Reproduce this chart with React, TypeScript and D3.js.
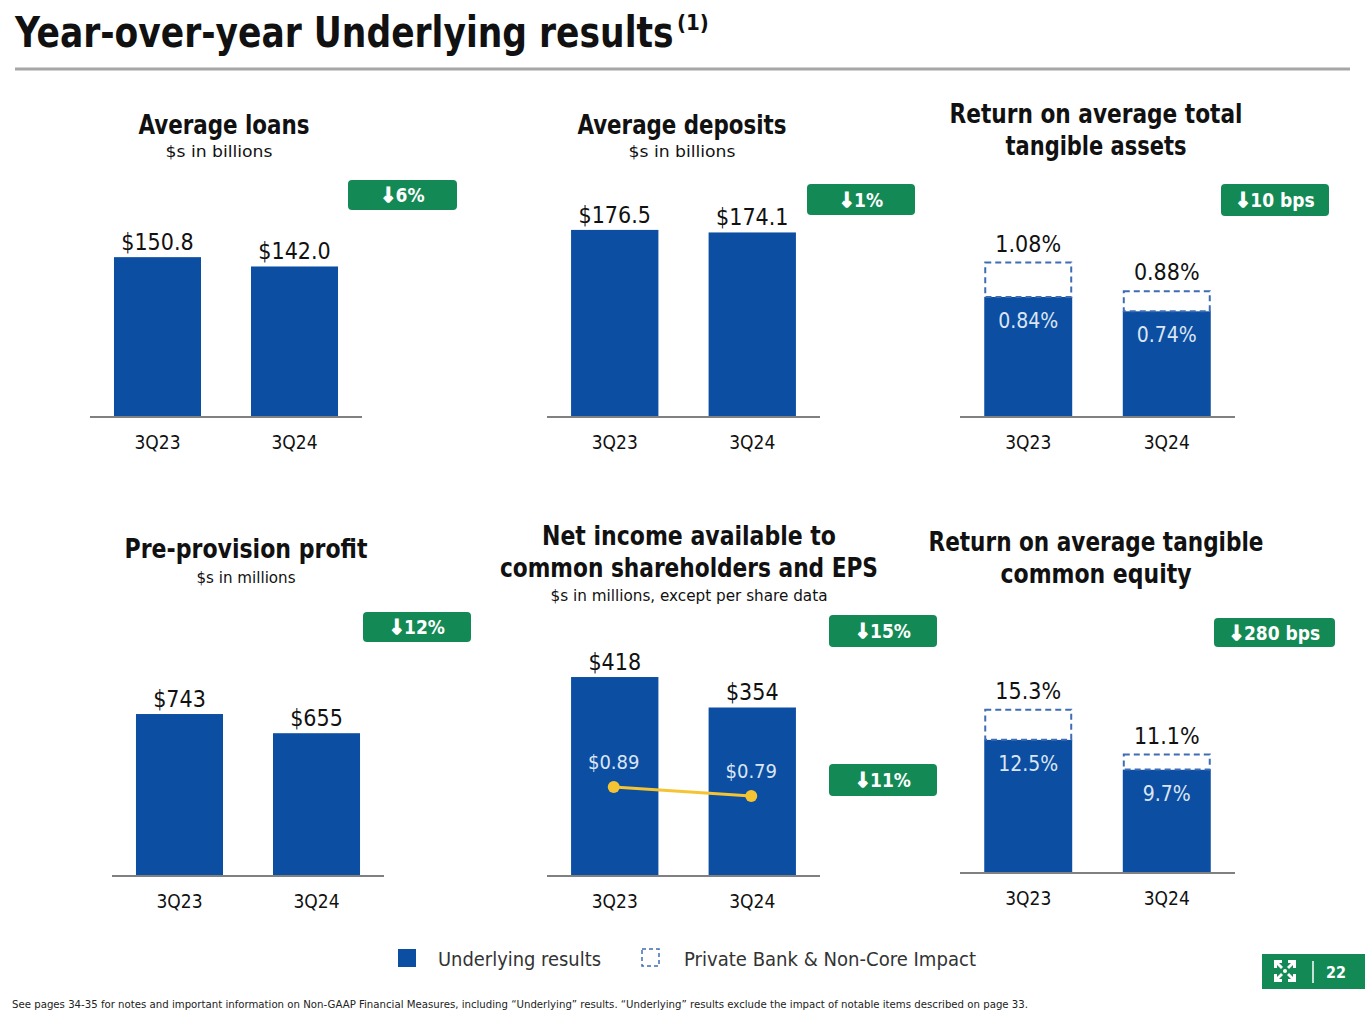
import React from "react";
import * as d3 from "d3";

// ---------- data ----------
const categories = ["3Q23", "3Q24"];
const avgLoans = [150.8, 142.0];
const avgDeposits = [176.5, 174.1];
const rotaUnderlying = [0.84, 0.74];
const rotaTotal = [1.08, 0.88];
const preProvisionProfit = [743, 655];
const netIncome = [418, 354];
const eps = [0.89, 0.79];
const rotceUnderlying = [12.5, 9.7];
const rotceTotal = [15.3, 11.1];

const loansLabels = ["$150.8", "$142.0"];
const depositsLabels = ["$176.5", "$174.1"];
const rotaUnderlyingLabels = ["0.84%", "0.74%"];
const rotaTotalLabels = ["1.08%", "0.88%"];
const pppLabels = ["$743", "$655"];
const netIncomeLabels = ["$418", "$354"];
const epsLabels = ["$0.89", "$0.79"];
const rotceUnderlyingLabels = ["12.5%", "9.7%"];
const rotceTotalLabels = ["15.3%", "11.1%"];

const badgeTexts = ["6%", "1%", "10 bps", "12%", "15%", "11%", "280 bps"];
const legendLabels = ["Underlying results", "Private Bank & Non-Core Impact"];

// ---------- style ----------
const BLUE = "#0b4ea2";
const GREEN = "#138a55";
const DASH = "#3f6db3";
const AXIS = "#808080";
const FONT = "'DejaVu Sans Condensed', 'DejaVu Sans', sans-serif";

type PanelCfg = {
  x0: number;
  x1: number;
  axisY: number;
  domainMax: number;
  heightPx: number;
  values: number[];
  labels: string[];
  totals?: number[];
  totalLabels?: string[];
};

const panels: PanelCfg[] = [
  { x0: 90, x1: 362, axisY: 417, domainMax: 200, heightPx: 212, values: avgLoans, labels: loansLabels },
  { x0: 547, x1: 820, axisY: 417, domainMax: 200, heightPx: 212, values: avgDeposits, labels: depositsLabels },
  {
    x0: 960, x1: 1235, axisY: 417, domainMax: 1.5, heightPx: 214.5,
    values: rotaUnderlying, labels: rotaUnderlyingLabels, totals: rotaTotal, totalLabels: rotaTotalLabels,
  },
  { x0: 112, x1: 384, axisY: 876, domainMax: 1000, heightPx: 218, values: preProvisionProfit, labels: pppLabels },
  { x0: 547, x1: 820, axisY: 876, domainMax: 500, heightPx: 238, values: netIncome, labels: netIncomeLabels },
  {
    x0: 960, x1: 1235, axisY: 873, domainMax: 20, heightPx: 213.3,
    values: rotceUnderlying, labels: rotceUnderlyingLabels, totals: rotceTotal, totalLabels: rotceTotalLabels,
  },
];

type TitleLine = { text: string; cx: number; y: number; w: number; size: number; bold: boolean };
const titles: TitleLine[] = [
  { text: "Average loans", cx: 224, y: 134, w: 171, size: 27, bold: true },
  { text: "$s in billions", cx: 219, y: 157, w: 107, size: 16, bold: false },
  { text: "Average deposits", cx: 682, y: 134, w: 209, size: 27, bold: true },
  { text: "$s in billions", cx: 682, y: 157, w: 107, size: 16, bold: false },
  { text: "Return on average total", cx: 1096, y: 123, w: 293, size: 27, bold: true },
  { text: "tangible assets", cx: 1096, y: 155, w: 181, size: 27, bold: true },
  { text: "Pre-provision profit", cx: 246, y: 558, w: 243, size: 27, bold: true },
  { text: "$s in millions", cx: 246, y: 583, w: 99, size: 16, bold: false },
  { text: "Net income available to", cx: 689, y: 545, w: 294, size: 27, bold: true },
  { text: "common shareholders and EPS", cx: 689, y: 577, w: 378, size: 27, bold: true },
  { text: "$s in millions, except per share data", cx: 689, y: 601, w: 277, size: 16, bold: false },
  { text: "Return on average tangible", cx: 1096, y: 551, w: 335, size: 27, bold: true },
  { text: "common equity", cx: 1096, y: 583, w: 191, size: 27, bold: true },
];

const badges = [
  { x: 348, y: 180, w: 109, h: 30 },
  { x: 807, y: 184, w: 108, h: 31 },
  { x: 1221, y: 184, w: 108, h: 32 },
  { x: 363, y: 612, w: 108, h: 30 },
  { x: 829, y: 615, w: 108, h: 32 },
  { x: 829, y: 764, w: 108, h: 32 },
  { x: 1214, y: 618, w: 121, h: 29 },
];

function Panel({ cfg }: { cfg: PanelCfg }) {
  const x = d3
    .scaleBand<string>()
    .domain(categories)
    .range([cfg.x0, cfg.x1])
    .paddingInner(0.365)
    .paddingOuter(0.175);
  const y = d3.scaleLinear().domain([0, cfg.domainMax]).range([cfg.axisY, cfg.axisY - cfg.heightPx]);
  const bw = x.bandwidth();
  return (
    <g>
      {categories.map((c, i) => {
        const bx = x(c)!;
        const top = y(cfg.values[i]);
        const cx = bx + bw / 2;
        return (
          <g key={c}>
            <rect x={bx} y={top} width={bw} height={cfg.axisY - top} fill={BLUE} />
            {cfg.totals ? (
              <>
                <rect
                  x={bx + 1}
                  y={y(cfg.totals[i])}
                  width={bw - 2}
                  height={top - y(cfg.totals[i])}
                  fill="white"
                  stroke={DASH}
                  strokeWidth={2}
                  strokeDasharray="6,4"
                />
                <text x={cx} y={y(cfg.totals[i]) - 11} textAnchor="middle" fontSize={23} fill="#111">
                  {cfg.totalLabels![i]}
                </text>
                <text x={cx} y={top + 31} textAnchor="middle" fontSize={21} fill="#dbe5f3">
                  {cfg.labels[i]}
                </text>
              </>
            ) : (
              <text x={cx} y={top - 7} textAnchor="middle" fontSize={23} fill="#111">
                {cfg.labels[i]}
              </text>
            )}
            <text x={cx} y={cfg.axisY + 32} textAnchor="middle" fontSize={19} fill="#111">
              {c}
            </text>
          </g>
        );
      })}
      <line x1={cfg.x0} x2={cfg.x1} y1={cfg.axisY} y2={cfg.axisY} stroke={AXIS} strokeWidth={2} />
    </g>
  );
}

function EpsLine() {
  const cfg = panels[4];
  const x = d3
    .scaleBand<string>()
    .domain(categories)
    .range([cfg.x0, cfg.x1])
    .paddingInner(0.365)
    .paddingOuter(0.175);
  const y = d3.scaleLinear().domain([0, 1]).range([867, 777]);
  const pts: [number, number][] = categories.map((c, i) => [x(c)! + x.bandwidth() / 2 - 1, y(eps[i])]);
  const line = d3.line();
  return (
    <g>
      <path d={line(pts)!} stroke="#f5c433" strokeWidth={3} fill="none" />
      {pts.map((p, i) => (
        <g key={i}>
          <circle cx={p[0]} cy={p[1]} r={6} fill="#f5c433" />
          <text x={p[0]} y={p[1] - 18} textAnchor="middle" fontSize={20} fill="#dbe5f3">
            {epsLabels[i]}
          </text>
        </g>
      ))}
    </g>
  );
}

function Logo() {
  const cx = 1285;
  const cy = 971;
  const arm = (rot: number) => (
    <g transform={`translate(${cx},${cy}) rotate(${rot})`} key={rot}>
      <path d="M -11 -11 L -3 -11 L -3 -8 L -6 -8 L -2 -4 L -4 -2 L -8 -6 L -8 -3 L -11 -3 Z" fill="white" />
    </g>
  );
  return (
    <g>
      <rect x={1262} y={954} width={103} height={35} fill={GREEN} />
      {[0, 90, 180, 270].map(arm)}
      <circle cx={cx} cy={cy} r={2} fill="white" />
      <line x1={1313} x2={1313} y1={961} y2={983} stroke="white" strokeWidth={1.5} />
      <text x={1336} y={978} textAnchor="middle" fontSize={16} fontWeight="bold" fill="white">
        22
      </text>
    </g>
  );
}

export default function App() {
  return (
    <svg
      width={1365}
      height={1024}
      style={{ position: "absolute", left: 0, top: 0, background: "white" }}
      fontFamily={FONT}
    >
      <rect x={0} y={0} width={1365} height={1024} fill="white" />
      {/* Title */}
      <text transform="translate(15,47) scale(0.914,1)" fontSize={42} fontWeight="bold" fill="#111">
        Year-over-year Underlying results
      </text>
      <text x={677} y={30} fontSize={22} fontWeight="bold" fill="#111">
        (1)
      </text>
      <line x1={15} x2={1350} y1={69} y2={69} stroke="#a6a6a6" strokeWidth={3} />

      {titles.map((t, i) => (
        <text
          key={i}
          x={t.cx - t.w / 2}
          y={t.y}
          fontSize={t.size}
          fontWeight={t.bold ? "bold" : "normal"}
          fill="#111"
          textLength={t.w}
          lengthAdjust="spacingAndGlyphs"
        >
          {t.text}
        </text>
      ))}

      {badges.map((b, i) => (
        <g key={i}>
          <rect x={b.x} y={b.y} width={b.w} height={b.h} rx={4} fill={GREEN} />
          <text
            x={b.x + b.w / 2}
            y={b.y + b.h / 2 + 7}
            textAnchor="middle"
            fontSize={19}
            fontWeight="bold"
            fill="white"
          >
            <tspan stroke="white" strokeWidth={1.6} fontSize={20}>↓</tspan>
            <tspan>{badgeTexts[i]}</tspan>
          </text>
        </g>
      ))}

      {panels.map((p, i) => (
        <Panel key={i} cfg={p} />
      ))}
      <EpsLine />

      {/* Legend */}
      <rect x={398} y={949} width={18} height={18} fill={BLUE} />
      <text x={438} y={966} fontSize={19} fill="#333" textLength={163} lengthAdjust="spacingAndGlyphs">
        {legendLabels[0]}
      </text>
      <rect x={642} y={949} width={17} height={17} fill="white" stroke={DASH} strokeWidth={1.5} strokeDasharray="4,3" />
      <text x={684} y={966} fontSize={19} fill="#333" textLength={292} lengthAdjust="spacingAndGlyphs">
        {legendLabels[1]}
      </text>

      <Logo />

      {/* Footnote */}
      <text x={12} y={1008} fontSize={11} fill="#222" textLength={1016} lengthAdjust="spacingAndGlyphs">
        See pages 34-35 for notes and important information on Non-GAAP Financial Measures, including “Underlying” results. “Underlying” results exclude the impact of notable items described on page 33.
      </text>
    </svg>
  );
}
